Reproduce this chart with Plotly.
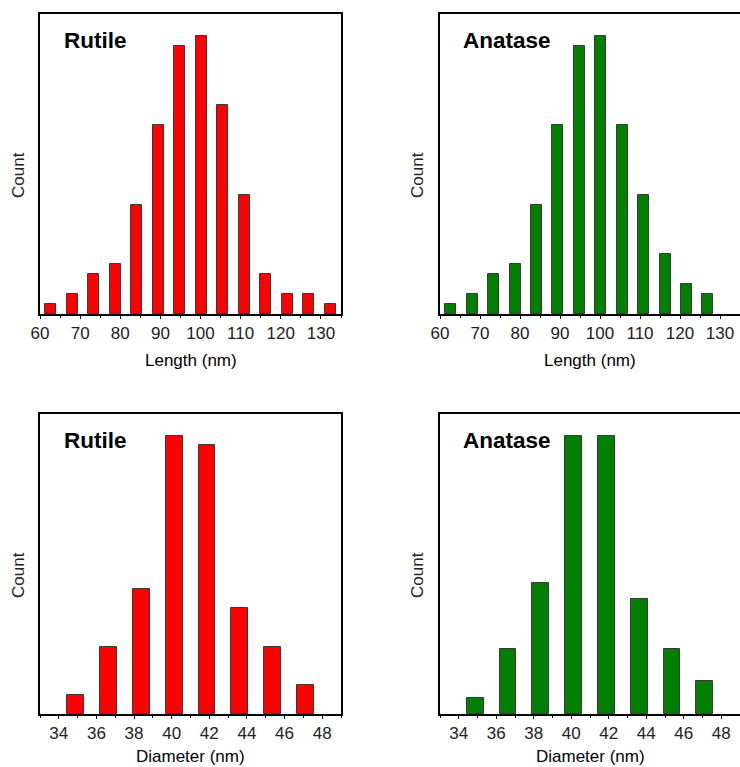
import plotly.graph_objects as go
from plotly.subplots import make_subplots

# Histogram bin centres (nm)
length_centers = [62.68, 68.04, 73.39, 78.75, 84.11, 89.46, 94.82,
                  100.18, 105.54, 110.89, 116.25, 121.61, 126.96, 132.32]
diameter_centers = [34.875, 36.625, 38.375, 40.125, 41.875, 43.625, 45.375, 47.125]

# Counts per bin
rutile_length = [1, 2, 4, 5, 11, 19, 27, 28, 21, 12, 4, 2, 2, 1]
anatase_length = [1, 2, 4, 5, 11, 19, 27, 28, 19, 12, 6, 3, 2, 0]
rutile_diameter = [2, 7, 13, 29, 28, 11, 7, 3]
anatase_diameter = [1, 4, 8, 17, 17, 7, 4, 2]

length_ticks = [60, 70, 80, 90, 100, 110, 120, 130]
diameter_ticks = [34, 36, 38, 40, 42, 44, 46, 48]

RED = "#FF0000"
GREEN = "#007F00"
FONT = "Arial, Liberation Sans, sans-serif"

W, H = 740, 767
ML, MR, MT, MB = 40, 0, 14, 53
PW, PH = W - ML - MR, H - MT - MB


def px_x(x):
    return (x - ML) / PW


def px_y(y):
    return (H - MB - y) / PH


fig = make_subplots(rows=2, cols=2, horizontal_spacing=0.0, vertical_spacing=0.0)

panels = [
    (1, 1, length_centers, rutile_length, RED, 2.75),
    (1, 2, length_centers, anatase_length, GREEN, 2.75),
    (2, 1, diameter_centers, rutile_diameter, RED, 0.9),
    (2, 2, diameter_centers, anatase_diameter, GREEN, 0.9),
]
for r, c, xs, ys, col, w in panels:
    # empty bins get no outline so nothing is drawn on the baseline
    edge_w = [1 if v > 0 else 0 for v in ys]
    fig.add_trace(
        go.Bar(x=xs, y=ys, width=w,
               marker=dict(color=col, line=dict(color="#3a3a3a", width=edge_w)),
               showlegend=False, hoverinfo="x+y"),
        row=r, col=c,
    )

left_dom = [0, px_x(341)]
right_dom = [px_x(440), 1.0]
top_dom = [px_y(314), 1.0]
bot_dom = [0, px_y(414)]

axis_common = dict(showline=True, linecolor="black", linewidth=1.6, showgrid=False,
                   zeroline=False)

xcfg = {
    "xaxis": (left_dom, [60, 135], length_ticks, 5),
    "xaxis2": (right_dom, [60, 135], length_ticks, 5),
    "xaxis3": (left_dom, [33, 49], diameter_ticks, 1),
    "xaxis4": (right_dom, [33, 49], diameter_ticks, 1),
}
for name, (dom, rng, tv, minor) in xcfg.items():
    fig.layout[name].update(
        domain=dom, range=rng, tickvals=tv, ticks="outside", ticklen=3, tickwidth=1.2,
        tickcolor="black", mirror=True,
        minor=dict(dtick=minor, tick0=0, ticks="outside", ticklen=2, tickcolor="black"),
        tickfont=dict(family=FONT, size=17, color="#222222"), **axis_common,
    )

ycfg = {
    "yaxis": (top_dom, [0, 30.18], True),
    "yaxis2": (top_dom, [0, 30.18], False),
    "yaxis3": (bot_dom, [0, 31.26], True),
    "yaxis4": (bot_dom, [0, 18.32], False),
}
for name, (dom, rng, mir) in ycfg.items():
    fig.layout[name].update(domain=dom, range=rng, showticklabels=False, ticks="",
                            mirror=mir, **axis_common)

annotations = []
# Panel labels
for text, x, y in [("Rutile", 62, 40), ("Anatase", 461, 40),
                   ("Rutile", 62, 440), ("Anatase", 461, 440)]:
    annotations.append(dict(text=f"<b>{text}</b>", x=px_x(x), y=px_y(y), xref="paper",
                            yref="paper", xanchor="left", yanchor="middle", showarrow=False,
                            font=dict(family=FONT, size=22.5, color="black")))
# Axis titles
for text, x, y in [("Length (nm)", 190.5, 360), ("Length (nm)", 590, 360),
                   ("Diameter (nm)", 190.5, 756), ("Diameter (nm)", 590, 756)]:
    annotations.append(dict(text=text, x=px_x(x), y=px_y(y), xref="paper", yref="paper",
                            xanchor="center", yanchor="middle", showarrow=False,
                            font=dict(family=FONT, size=17, color="black")))
for x, y in [(18, 175), (417, 175), (18, 575), (417, 575)]:
    annotations.append(dict(text="Count", x=px_x(x), y=px_y(y), xref="paper", yref="paper",
                            xanchor="center", yanchor="middle", textangle=-90,
                            showarrow=False, font=dict(family=FONT, size=17, color="#222222")))

fig.update_layout(
    width=W, height=H, margin=dict(l=ML, r=MR, t=MT, b=MB),
    plot_bgcolor="white", paper_bgcolor="white", bargap=0,
    annotations=annotations, font=dict(family=FONT),
)

fig.write_html("out.html", config={"displayModeBar": False})
